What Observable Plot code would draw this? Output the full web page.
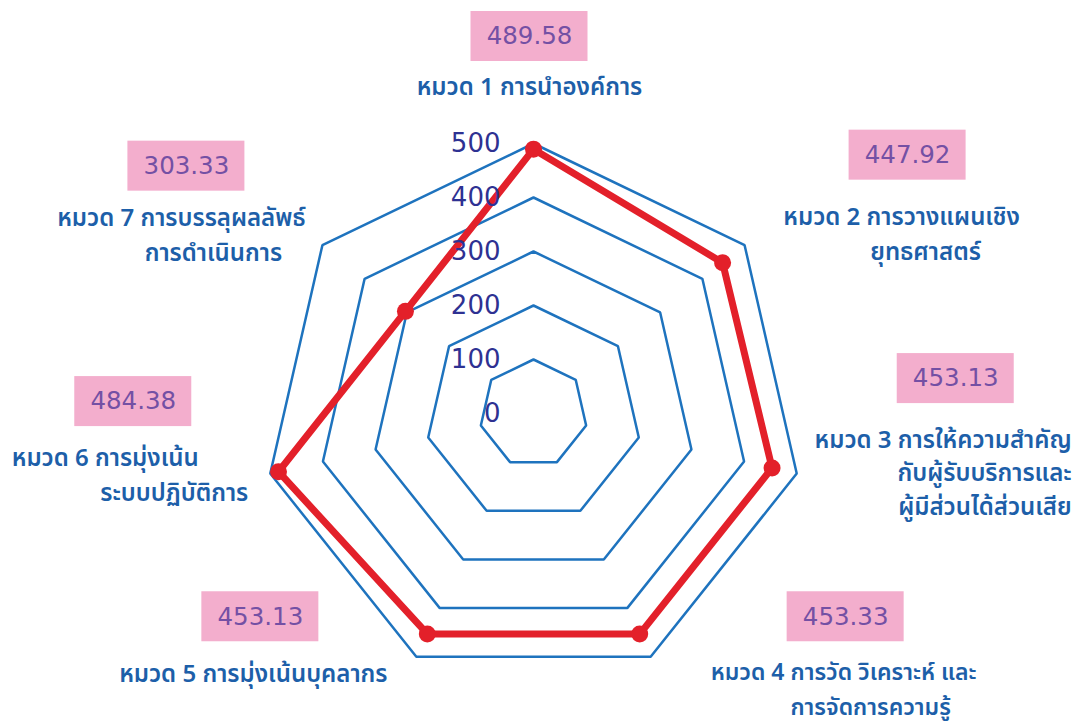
<!DOCTYPE html>
<html><head><meta charset="utf-8">
<script src="https://cdn.jsdelivr.net/npm/d3@7"></script>
<script src="https://cdn.jsdelivr.net/npm/@observablehq/plot@0.6"></script>
<style>body{margin:0;background:#fff} #chart svg{display:block}</style>
</head><body><div id="chart"></div>
<script>
// ---- data ----
const categories = [
  "หมวด 1 การนำองค์การ",
  "หมวด 2 การวางแผนเชิงยุทธศาสตร์",
  "หมวด 3 การให้ความสำคัญกับผู้รับบริการและผู้มีส่วนได้ส่วนเสีย",
  "หมวด 4 การวัด วิเคราะห์ และการจัดการความรู้",
  "หมวด 5 การมุ่งเน้นบุคลากร",
  "หมวด 6 การมุ่งเน้นระบบปฏิบัติการ",
  "หมวด 7 การบรรลุผลลัพธ์การดำเนินการ"
];
const categoryLines = [
  ["หมวด 1 การนำองค์การ"],
  ["หมวด 2 การวางแผนเชิง", "ยุทธศาสตร์"],
  ["หมวด 3 การให้ความสำคัญ", "กับผู้รับบริการและ", "ผู้มีส่วนได้ส่วนเสีย"],
  ["หมวด 4 การวัด วิเคราะห์ และ", "การจัดการความรู้"],
  ["หมวด 5 การมุ่งเน้นบุคลากร"],
  ["หมวด 6 การมุ่งเน้น", "ระบบปฏิบัติการ"],
  ["หมวด 7 การบรรลุผลลัพธ์", "การดำเนินการ"]
];
const scores = [489.58, 447.92, 453.13, 453.33, 453.13, 484.38, 303.33];
const gridLevels = [100, 200, 300, 400, 500];
const tickValues = [0, 100, 200, 300, 400, 500];
const maxValue = 500;

// ---- layout ----
const W = 1077, H = 727, cx = 533, cy = 413, R = 270, k = R / maxValue;
const n = categories.length;
const ang = i => i * 2 * Math.PI / n;
const polar = (v, i) => [v * Math.sin(ang(i)), v * Math.cos(ang(i))];
const offset = (i, dx, dy) => { const [x, y] = polar(maxValue, i); return [x + dx / k, y - dy / k]; };

// px offsets relative to each axis' outer vertex
const boxOffsets = [[-4,-107],[163,-90],[159,-95],[195,-40],[-156,-40],[-137,-72],[-136,-79]];
const lineOffsets = [
  {anchor:"middle", size:24, pos:[[-4,-56]]},
  {anchor:"middle", size:24, pos:[[157,-28],[181,7]]},
  {anchor:"end",    size:24, pos:[[275,-33],[275,0],[275,34]]},
  {anchor:"middle", size:23, pos:[[193,16],[220,51]]},
  {anchor:"middle", size:24, pos:[[-163,18]]},
  {anchor:"middle", size:24, pos:[[-165,-15],[-96,20]]},
  {anchor:"middle", size:24, pos:[[-141,-27],[-109,8]]}
];
const boxW = 117, boxH = 50;

// ---- derived tables ----
const gridData = gridLevels.flatMap(level =>
  d3.range(n + 1).map(j => { const [x, y] = polar(level, j % n); return {level, x, y}; }));
const scorePts = scores.map((v, i) => { const [x, y] = polar(v, i); return {x, y, v, cat: categories[i]}; });
const scoreLine = [...scorePts, scorePts[0]];
const boxes = scores.map((v, i) => {
  const [x, y] = offset(i, ...boxOffsets[i]);
  return {x, y, text: v.toFixed(2),
    x1: x - boxW / 2 / k, x2: x + boxW / 2 / k, y1: y - boxH / 2 / k, y2: y + boxH / 2 / k};
});
const lineData = categoryLines.flatMap((lines, i) => lines.map((t, j) => {
  const [x, y] = offset(i, ...lineOffsets[i].pos[j]);
  return {x, y, text: t, anchor: lineOffsets[i].anchor, size: lineOffsets[i].size};
}));

const thaiFont = "'Noto Sans Thai','Tahoma','Loma','Garuda','Noto Sans','DejaVu Sans',sans-serif";
const blue = "#1E73BE", red = "#E3202A";

const chart = Plot.plot({
  width: W, height: H,
  margin: 0,
  x: {domain: [-cx / k, (W - cx) / k], range: [0, W], axis: null},
  y: {domain: [-(H - cy) / k, cy / k], range: [H, 0], axis: null},
  style: {background: "#fff"},
  marks: [
    Plot.line(gridData, {x: "x", y: "y", z: "level", stroke: blue, strokeWidth: 2.5, strokeLinejoin: "miter"}),
    Plot.line(scoreLine, {x: "x", y: "y", stroke: red, strokeWidth: 7, strokeLinejoin: "round"}),
    Plot.dot(scorePts, {x: "x", y: "y", r: 8.5, fill: red, stroke: "none"}),
    Plot.text(tickValues, {x: () => 0, y: d => d, text: d => String(d), textAnchor: "end", dx: -33,
      fill: "#2E3192", fontSize: 26, fontFamily: "'DejaVu Sans',sans-serif"}),
    Plot.rect(boxes, {x1: "x1", x2: "x2", y1: "y1", y2: "y2", fill: "#F3AECD"}),
    Plot.text(boxes, {x: "x", y: "y", text: "text", fill: "#7450A4", fontSize: 24.5,
      fontFamily: "'DejaVu Sans',sans-serif"}),
    Plot.text(lineData.filter(d => d.anchor === "middle"), {x: "x", y: "y", text: "text", textAnchor: "middle",
      fill: "#1D5FA9", fontSize: d => d.size, fontWeight: 600, fontFamily: thaiFont}),
    Plot.text(lineData.filter(d => d.anchor === "end"), {x: "x", y: "y", text: "text", textAnchor: "end",
      fill: "#1D5FA9", fontSize: d => d.size, fontWeight: 600, fontFamily: thaiFont})
  ]
});
document.getElementById("chart").appendChild(chart);
</script>
</body></html>
